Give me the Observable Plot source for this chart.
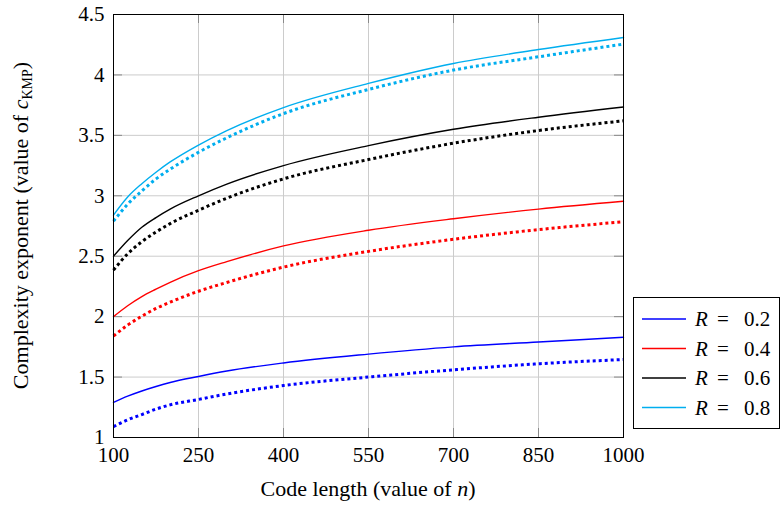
<!DOCTYPE html>
<html>
<head>
<meta charset="utf-8">
<script src="https://cdn.jsdelivr.net/npm/d3@7"></script>
<script src="https://cdn.jsdelivr.net/npm/@observablehq/plot@0.6"></script>
<style>
  html, body { margin: 0; padding: 0; background: white; }
  svg { display: block; }
</style>
</head>
<body>
<div id="chart"></div>
<script>
// ---- data ----
const nValues = [100, 125, 150, 175, 200, 250, 300, 400, 550, 700, 850, 1000];
const rLabels = ["0.2", "0.4", "0.6", "0.8"];
const colors = ["#0000ff", "#ff0000", "#000000", "#00aeef"];

const solidR02  = [1.29, 1.342, 1.385, 1.422, 1.455, 1.505, 1.55, 1.617, 1.69, 1.75, 1.79, 1.83];
const dottedR02 = [1.09, 1.146, 1.19, 1.235, 1.27, 1.315, 1.36, 1.43, 1.50, 1.56, 1.61, 1.645];
const solidR04  = [2.00, 2.09, 2.166, 2.227, 2.284, 2.38, 2.455, 2.585, 2.715, 2.81, 2.89, 2.955];
const dottedR04 = [1.84, 1.93, 2.004, 2.068, 2.12, 2.21, 2.283, 2.41, 2.54, 2.64, 2.72, 2.785];
const solidR06  = [2.50, 2.63, 2.74, 2.82, 2.89, 3.00, 3.097, 3.25, 3.415, 3.55, 3.65, 3.735];
const dottedR06 = [2.385, 2.52, 2.62, 2.70, 2.77, 2.88, 2.98, 3.14, 3.30, 3.435, 3.54, 3.62];
const solidR08  = [2.84, 2.99, 3.10, 3.195, 3.28, 3.42, 3.54, 3.73, 3.93, 4.095, 4.21, 4.31];
const dottedR08 = [2.79, 2.93, 3.04, 3.14, 3.22, 3.36, 3.48, 3.68, 3.88, 4.04, 4.15, 4.255];

const xTicks = [100, 250, 400, 550, 700, 850, 1000];
const xTickLabels = ["100", "250", "400", "550", "700", "850", "1000"];
const yTicks = [1, 1.5, 2, 2.5, 3, 3.5, 4, 4.5];
const yTickLabels = ["1", "1.5", "2", "2.5", "3", "3.5", "4", "4.5"];

const solidSeries = [solidR02, solidR04, solidR06, solidR08];
const dottedSeries = [dottedR02, dottedR04, dottedR06, dottedR08];

const toRows = (vals) => nValues.map((n, i) => ({n, v: vals[i]}));

const lineMarks = [];
dottedSeries.forEach((s, k) => {
  lineMarks.push(Plot.line(toRows(s), {x: "n", y: "v", stroke: colors[k], strokeWidth: 3,
    strokeDasharray: "3,3", curve: "monotone-x", strokeLinecap: "butt"}));
});
solidSeries.forEach((s, k) => {
  lineMarks.push(Plot.line(toRows(s), {x: "n", y: "v", stroke: colors[k], strokeWidth: 1.4,
    curve: "monotone-x"}));
});

const W = 781, H = 511, mL = 113, mR = 158, mT = 14, mB = 74;
const innerW = W - mL - mR, innerH = H - mT - mB;
const tickLen = 9;
const font = "Liberation Serif, Times New Roman, Tinos, DejaVu Serif, Noto Serif, FreeSerif, serif";

const chart = Plot.plot({
  width: W, height: H,
  marginLeft: mL, marginRight: mR, marginTop: mT, marginBottom: mB,
  style: {fontFamily: font, fontSize: "20px", background: "white", color: "black"},
  x: {domain: [100, 1000]},
  y: {domain: [1, 4.5]},
  marks: [
    Plot.gridX(xTicks, {stroke: "#cccccc", strokeOpacity: 1}),
    Plot.gridY(yTicks, {stroke: "#cccccc", strokeOpacity: 1}),
    Plot.ruleX(xTicks, {insetTop: innerH - tickLen, stroke: "#8a8a8a"}),
    Plot.ruleX(xTicks, {insetBottom: innerH - tickLen, stroke: "#8a8a8a"}),
    Plot.ruleY(yTicks, {insetRight: innerW - tickLen, stroke: "#8a8a8a"}),
    Plot.ruleY(yTicks, {insetLeft: innerW - tickLen, stroke: "#8a8a8a"}),
    ...lineMarks,
    Plot.frame({stroke: "black", strokeWidth: 1}),
    Plot.axisX(xTicks, {tickSize: 0, tickPadding: 10, label: null, fontSize: 21,
      tickFormat: d => xTickLabels[xTicks.indexOf(d)]}),
    Plot.axisY(yTicks, {tickSize: 0, tickPadding: 9, label: null, fontSize: 21,
      tickFormat: d => yTickLabels[yTicks.indexOf(d)]})
  ]
});

const svg = d3.select(chart);
// drop Plot's tabular-nums variant on the axis groups so the serif face is used for digits
svg.selectAll("[font-variant]").attr("font-variant", null);
svg.selectAll("g, text").style("font-variant", "normal");
svg.selectAll("text").style("font-family", font);

// x axis label
const xl = svg.append("text")
  .attr("x", mL + innerW / 2).attr("y", 496)
  .attr("text-anchor", "middle")
  .style("font-family", font).attr("font-size", 22)
  .attr("fill", "black");
xl.append("tspan").text("Code length (value of ");
xl.append("tspan").attr("font-style", "italic").text("n");
xl.append("tspan").text(")");

// y axis label
const yl = svg.append("text")
  .attr("transform", `translate(28,${mT + innerH / 2}) rotate(-90)`)
  .attr("text-anchor", "middle")
  .style("font-family", font).attr("font-size", 22)
  .attr("fill", "black");
yl.append("tspan").text("Complexity exponent (value of ");
yl.append("tspan").attr("font-style", "italic").text("c");
yl.append("tspan").attr("font-size", 14).attr("dy", 4).text("KMP");
yl.append("tspan").attr("dy", -4).text(")");

// legend
const lg = svg.append("g");
lg.append("rect").attr("x", 633.5).attr("y", 297.5).attr("width", 146).attr("height", 131)
  .attr("fill", "white").attr("stroke", "black");
rLabels.forEach((r, i) => {
  const y = 319 + i * 29.5;
  lg.append("line").attr("x1", 642).attr("x2", 686).attr("y1", y).attr("y2", y)
    .attr("stroke", colors[i]).attr("stroke-width", 1.4);
  const common = (sel) => sel.attr("y", y + 7).attr("text-anchor", "start")
    .style("font-family", font).attr("font-size", 21).attr("fill", "black");
  common(lg.append("text").attr("x", 695).attr("font-style", "italic")).text("R");
  common(lg.append("text").attr("x", 717)).text("=");
  common(lg.append("text").attr("x", 744)).text(r);
});

document.getElementById("chart").appendChild(chart);
</script>
</body>
</html>
